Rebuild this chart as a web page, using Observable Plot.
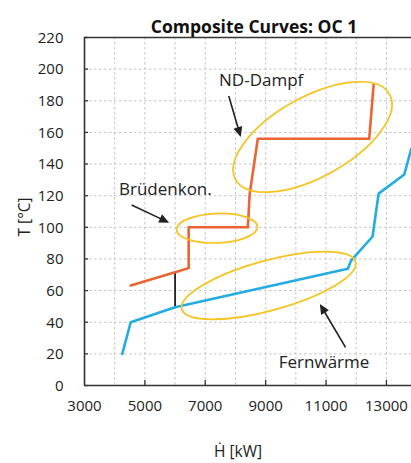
<!DOCTYPE html>
<html><head><meta charset="utf-8">
<script src="https://cdn.jsdelivr.net/npm/d3@7"></script>
<script src="https://cdn.jsdelivr.net/npm/@observablehq/plot@0.6"></script>
<style>body{margin:0;background:#fff} svg{display:block}</style>
</head><body><div id="chart"></div>
<script>
// Cold composite (Fernwärme)
const coldH = [4250, 4530, 6000, 11720, 11830, 12540, 12740, 13590, 13820];
const coldT = [20, 40, 49.5, 73.8, 79, 94.2, 121.3, 133.4, 149.5];
// Hot composite (Brüden / ND-Dampf)
const hotH = [4530, 6000, 6450, 6450, 8410, 8470, 8740, 12430, 12575];
const hotT = [63.2, 71.6, 74.2, 100, 100, 121, 156, 156, 190];
// Pinch line
const pinchH = [6000];
const pinchTlow = [49.5];
const pinchThigh = [71.6];

const xTicks = [3000, 5000, 7000, 9000, 11000, 13000];
const xTickMarks = [5000, 7000, 9000, 11000, 13000];
const xGrid = [4000, 5000, 6000, 7000, 8000, 9000, 10000, 11000, 12000, 13000];
const yTicks = [0, 20, 40, 60, 80, 100, 120, 140, 160, 180, 200, 220];

const title = "Composite Curves: OC 1";
const xLabel = "Ḣ [kW]";
const yLabel = "T [°C]";

const labels = [
  {H: 8852, T: 192.8, text: "ND-Dampf"},
  {H: 5678, T: 123.9, text: "Brüdenkon."},
  {H: 10934, T: 14.2, text: "Fernwärme"}
];
const arrows = [
  {H1: 7794, T1: 182.7, H2: 8190, T2: 156.8},
  {H1: 4577, T1: 113.8, H2: 5820, T2: 102.6},
  {H1: 11662, T1: 23.8, H2: 10812, T2: 51.2}
];
const ellipses = [
  {H: 10571, T: 156.8, rx: 88, ry: 40, angle: -29},
  {H: 7404, T: 99.1, rx: 40.5, ry: 14.7, angle: -2},
  {H: 9116, T: 62.9, rx: 90, ry: 25, angle: -15.3}
];

const cold = coldH.map((h, i) => ({H: h, T: coldT[i]}));
const hot = hotH.map((h, i) => ({H: h, T: hotT[i]}));
const pinch = pinchH.map((h, i) => ({H: h, T1: pinchTlow[i], T2: pinchThigh[i]}));

const ORANGE = "#EC6432", BLUE = "#22ACE2", YELLOW = "#F6C21C", INK = "#222";

function annotationLayer(index, scales) {
  const g = d3.create("svg:g");
  for (const e of ellipses) {
    const cx = scales.x(e.H), cy = scales.y(e.T);
    g.append("ellipse").attr("cx", cx).attr("cy", cy).attr("rx", e.rx).attr("ry", e.ry)
      .attr("transform", `rotate(${e.angle} ${cx} ${cy})`)
      .attr("fill", "none").attr("stroke", YELLOW).attr("stroke-width", 1.7);
  }
  for (const a of arrows) {
    const x1 = scales.x(a.H1), y1 = scales.y(a.T1), x2 = scales.x(a.H2), y2 = scales.y(a.T2);
    const dx = x2 - x1, dy = y2 - y1, L = Math.hypot(dx, dy), ux = dx / L, uy = dy / L;
    const hl = 10, hw = 4.5, bx = x2 - ux * hl, by = y2 - uy * hl;
    g.append("line").attr("x1", x1).attr("y1", y1).attr("x2", bx + ux * 1).attr("y2", by + uy * 1)
      .attr("stroke", INK).attr("stroke-width", 1.6);
    g.append("polygon").attr("points", `${x2},${y2} ${bx - uy * hw},${by + ux * hw} ${bx + uy * hw},${by - ux * hw}`)
      .attr("fill", INK);
  }
  return g.node();
}

const chart = Plot.plot({
  width: 411, height: 463,
  marginTop: 37, marginBottom: 78, marginLeft: 84, marginRight: 0,
  style: {fontFamily: "'Open Sans', sans-serif", fontSize: "15px", color: INK, background: "#fff"},
  x: {domain: [3000, 13830], axis: null},
  y: {domain: [0, 220], axis: null},
  marks: [
    Plot.ruleX(xGrid, {stroke: "#c4c4c4", strokeDasharray: "2.5,2.5", strokeWidth: 1}),
    Plot.ruleY(yTicks.filter(d => d > 0 && d < 220), {stroke: "#c4c4c4", strokeDasharray: "2.5,2.5", strokeWidth: 1}),
    Plot.ruleX(xTickMarks, {stroke: "#333", strokeWidth: 1.3, insetTop: 343}),
    Plot.ruleY(yTicks, {stroke: "#333", strokeWidth: 1.3, insetRight: 323}),
    Plot.ruleY([0, 220], {stroke: "#333", strokeWidth: 1.6}),
    Plot.ruleX([3000], {stroke: "#333", strokeWidth: 1.6}),
    Plot.text(xTicks, {x: d => d, text: d => String(d), frameAnchor: "bottom", dy: 25, fontSize: 15, fill: INK}),
    Plot.text(yTicks, {y: d => d, text: d => String(d), frameAnchor: "left", dx: -21, dy: 0.5, textAnchor: "end", fontSize: 15, fill: INK}),
    Plot.ruleX(pinch, {x: "H", y1: "T1", y2: "T2", stroke: INK, strokeWidth: 1.8}),
    Plot.line(hot, {x: "H", y: "T", stroke: ORANGE, strokeWidth: 2.6}),
    Plot.line(cold, {x: "H", y: "T", stroke: BLUE, strokeWidth: 2.6}),
    annotationLayer,
    Plot.text(labels, {x: "H", y: "T", text: "text", fontSize: 17, fill: INK}),
    Plot.text([title], {frameAnchor: "top", dy: -17, dx: 6, fontSize: 17.5, fontWeight: "bold", fill: "#111"}),
    Plot.text([yLabel], {frameAnchor: "left", dx: -59, dy: 25, rotate: -90, fontSize: 15.5, fill: INK}),
    Plot.text([xLabel], {frameAnchor: "bottom", dx: -10, dy: 71, fontSize: 15.5, fill: INK})
  ]
});
document.getElementById("chart").append(chart);
</script>
</body></html>
